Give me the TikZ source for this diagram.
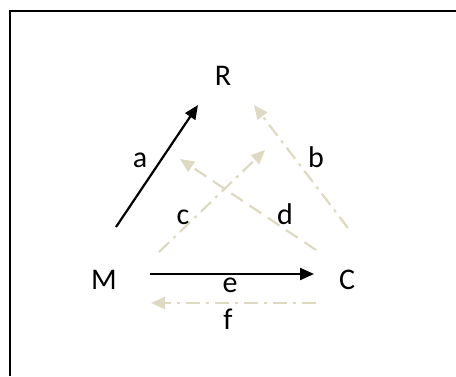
\documentclass[tikz,border=0pt]{standalone}
\usepackage{fontspec}
\setmainfont{Carlito}
\usepackage{xcolor}
\usetikzlibrary{arrows.meta,positioning}
\definecolor{pale}{RGB}{221,217,195}

\begin{document}
\begin{tikzpicture}[x=1pt, y=-1pt, font=\fontsize{30}{36}\selectfont,
  every node/.style={anchor=base, inner sep=0pt},
  fleche/.style={line width=2.2pt, -{Triangle[length=14pt,width=12pt]}},
  noir/.style={fleche, black},
  pointille/.style={fleche, pale, dash pattern=on 14pt off 6pt on 3pt off 6pt},
  tirets/.style={fleche, pale, dash pattern=on 14pt off 8pt}]
\useasboundingbox (0,0) rectangle (456,376);
\draw[line width=1.5pt] (456,11) -- (10,11) -- (10,376);
% sommets
\node (R) at (223,85) {R};
\node (M) at (104,289) {M};
\node (C) at (347,289) {C};
% extremites des fleches
\coordinate (a1) at (116,227); \coordinate (a2) at (198,105);
\coordinate (b1) at (348,228); \coordinate (b2) at (254,105);
\coordinate (c1) at (159,252); \coordinate (c2) at (265,150);
\coordinate (d1) at (316,250); \coordinate (d2) at (180,159);
\coordinate (e1) at (150,274); \coordinate (e2) at (314,274);
\coordinate (f1) at (316,303); \coordinate (f2) at (151,303);
\draw[noir] (a1) -- (a2);
\draw[pointille] (b1) -- (b2);
\draw[pointille] (c1) -- (c2);
\draw[tirets] (d1) -- (d2);
\draw[noir] (e1) -- (e2);
\draw[pointille] (f1) -- (f2);
% etiquettes
\node (la) at (140,167) {a};
\node (lb) at (316,167) {b};
\node (lc) at (183,224) {c};
\node (ld) at (285,224) {d};
\node (le) at (230,292) {e};
\node (lf) at (228,329) {f};
\end{tikzpicture}
\end{document}
